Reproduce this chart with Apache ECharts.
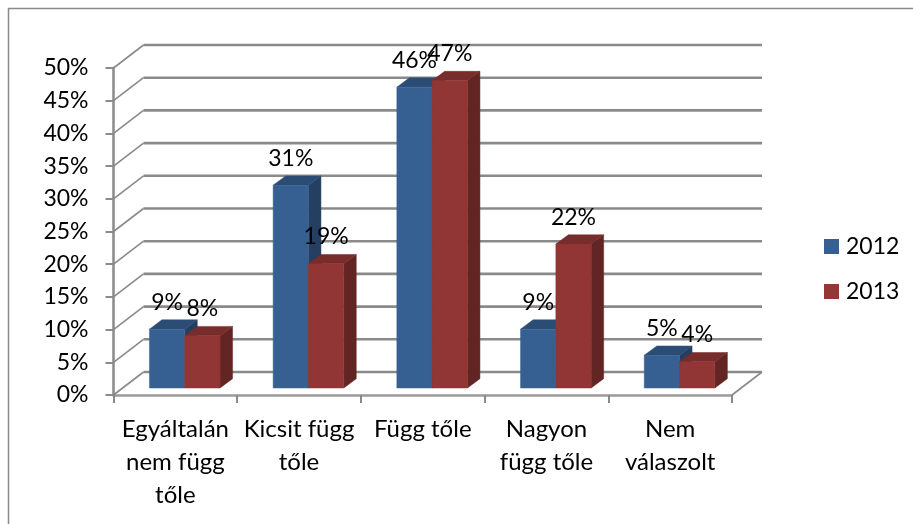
<!DOCTYPE html>
<html><head><meta charset="utf-8">
<style>html,body{margin:0;padding:0;background:#fff}#c{width:913px;height:524px}</style>
<script src="https://cdn.jsdelivr.net/npm/echarts@6/dist/echarts.min.js"></script>
</head><body><div id="c"></div>
<script>
const categories = ['Egyáltalán\nnem függ\ntőle', 'Kicsit függ\ntőle', 'Függ tőle', 'Nagyon\nfügg tőle', 'Nem\nválaszolt'];
const values2012 = [9, 31, 46, 9, 5];
const values2013 = [8, 19, 47, 22, 4];
const yTicks = [0, 5, 10, 15, 20, 25, 30, 35, 40, 45, 50];

const FONT = 'Lato, Carlito, "Open Sans", sans-serif';
const GREY = '#8a8a8a';
const DEPTH_X = 30, DEPTH_Y = 23;
const BAR_W = 35.3, BAR_DX = 12.5, BAR_DY = 9.3, FLOOR_DX = 9.4, FLOOR_DY = 7;

function wallItem(params, api) {
  const cs = params.coordSys;
  const y = api.coord([0, api.value(1)])[1];
  const l = cs.x, r = cs.x + cs.width;
  const isFloor = api.value(1) === 0;
  const line = (pts, w) => ({ type: 'polyline', shape: { points: pts }, silent: true,
    style: { fill: null, stroke: GREY, lineWidth: w } });
  const children = [
    line([[l, y], [l + DEPTH_X, y - DEPTH_Y]], 1.6),
    line([[l + DEPTH_X, y - DEPTH_Y], [r + DEPTH_X, y - DEPTH_Y]], 2.6)
  ];
  if (isFloor) children.push(line([[r + DEPTH_X, y - DEPTH_Y], [r, y]], 1.6));
  return { type: 'group', children };
}

function barRenderer(side, face, top, right) {
  return function (params, api) {
    const idx = api.value(0), val = api.value(1);
    const c = api.coord([idx, val]), b = api.coord([idx, 0]);
    const x0 = c[0] + FLOOR_DX + (side === 0 ? -BAR_W : 0), x1 = x0 + BAR_W;
    const yT = c[1] - FLOOR_DY, yB = b[1] - FLOOR_DY;
    const poly = (pts, fill) => ({ type: 'polygon', shape: { points: pts },
      style: { fill, stroke: fill, lineWidth: 0.5 } });
    return { type: 'group', children: [
      poly([[x1, yT], [x1 + BAR_DX, yT - BAR_DY], [x1 + BAR_DX, yB - BAR_DY], [x1, yB]], right),
      poly([[x0, yT], [x0 + BAR_DX, yT - BAR_DY], [x1 + BAR_DX, yT - BAR_DY], [x1, yT]], top),
      { type: 'rect', shape: { x: x0, y: yT, width: BAR_W, height: yB - yT },
        style: { fill: face, stroke: face, lineWidth: 0.5 } },
      { type: 'text', z2: 100, silent: true, style: { text: val + '%', x: (x0 + x1) / 2, y: yT - 27,
        align: 'center', verticalAlign: 'middle', font: '23px ' + FONT, fill: '#000' } }
    ] };
  };
}

const chart = echarts.init(document.getElementById('c'), null, { renderer: 'canvas' });
chart.setOption({
  animation: false,
  backgroundColor: '#fff',
  graphic: [{ type: 'polyline', silent: true, shape: { points: [[8.5, 524], [8.5, 8.5], [913, 8.5]] },
    style: { fill: null, stroke: GREY, lineWidth: 1.5 } }],
  grid: { left: 113.5, top: 68, width: 618.5, height: 327 },
  legend: { data: ['2012', '2013'], orient: 'vertical', left: 819, top: 230, icon: 'rect',
    itemWidth: 15, itemHeight: 15, itemGap: 22, textStyle: { fontFamily: FONT, fontSize: 23, color: '#000', padding: [0, 0, 0, 2] } },
  xAxis: { type: 'category', data: categories,
    axisLine: { lineStyle: { color: '#9a9a9a', width: 2.5 } },
    axisTick: { show: true, length: 8, lineStyle: { color: GREY, width: 2 } },
    axisLabel: { fontFamily: FONT, fontSize: 24, color: '#000', lineHeight: 33, margin: 18, interval: 0 } },
  yAxis: { type: 'value', min: 0, max: 50, interval: 5,
    splitLine: { show: false },
    axisLine: { show: true, lineStyle: { color: GREY, width: 2.5 } },
    axisTick: { show: true, length: 8, lineStyle: { color: GREY, width: 2 } },
    axisLabel: { fontFamily: FONT, fontSize: 23, color: '#000', margin: 25, padding: [8, 0, 0, 0], formatter: '{value}%' } },
  series: [
    { type: 'custom', name: 'wall', z: 1, renderItem: wallItem, data: yTicks.map(v => [0, v]), encode: { x: 0, y: 1 } },
    { type: 'custom', name: '2012', z: 3, itemStyle: { color: '#376092' },
      renderItem: barRenderer(0, '#376092', '#2b4c75', '#243f62'),
      data: values2012.map((v, i) => [i, v]), encode: { x: 0, y: 1 } },
    { type: 'custom', name: '2013', z: 3, itemStyle: { color: '#953735' },
      renderItem: barRenderer(1, '#913634', '#772d2b', '#632523'),
      data: values2013.map((v, i) => [i, v]), encode: { x: 0, y: 1 } }
  ]
});
</script></body></html>
